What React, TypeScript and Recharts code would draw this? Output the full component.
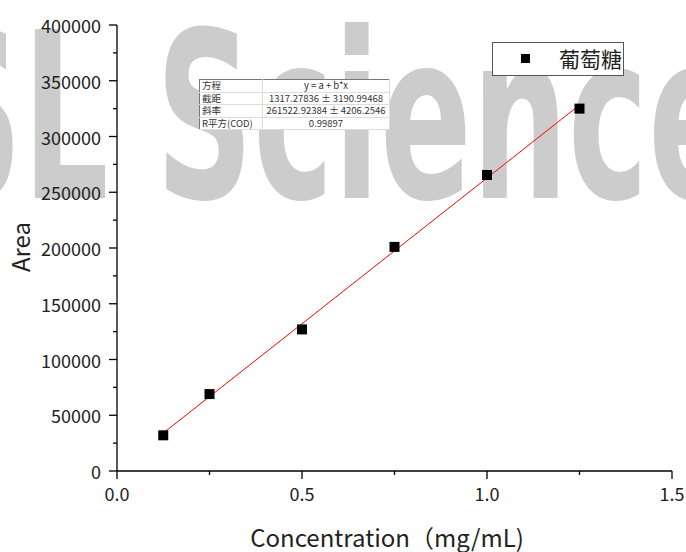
import React from 'react';
import { ComposedChart, Scatter, Line, XAxis, YAxis, Legend } from 'recharts';

// calibration points
const concentrations = [0.125, 0.25, 0.5, 0.75, 1.0, 1.25];
const areas = [32000, 69000, 127000, 201000, 265500, 325000];

// end points of the fitted line
const fitX = [0.125, 1.25];
const fitY = [34000, 328200];

const xTicks = [0, 0.25, 0.5, 0.75, 1.0, 1.25, 1.5];
const xMajor = [0, 0.5, 1.0, 1.5];
const yTicks = [
  0, 25000, 50000, 75000, 100000, 125000, 150000, 175000, 200000,
  225000, 250000, 275000, 300000, 325000, 350000, 375000, 400000,
];
const yMajor = [0, 50000, 100000, 150000, 200000, 250000, 300000, 350000, 400000];

const seriesName = '葡萄糖';
const fitLabels = ['方程', '截距', '斜率', 'R平方(COD)'];
const fitValues = ['y = a + b*x', '1317.27836 ± 3190.99468', '261522.92384 ± 4206.2546', '0.99897'];

const points = concentrations.map((x, i) => ({ x, y: areas[i] }));
const fitLine = fitX.map((x, i) => ({ x, y: fitY[i] }));

const FONT = '"Noto Sans CJK SC", "Noto Sans", sans-serif';

const YTick = (props: any) => {
  const { x, y, payload } = props;
  const major = yMajor.includes(payload.value);
  return (
    <g>
      <line x1={x - (major ? 8 : 4)} x2={x} y1={y} y2={y} stroke="#000" strokeWidth={1.3} />
      {major && (
        <text x={x - 16} y={y} textAnchor="end" dominantBaseline="central" fontSize={18} fill="#222" fontFamily={FONT}>
          {payload.value}
        </text>
      )}
    </g>
  );
};

const XTick = (props: any) => {
  const { x, y, payload } = props;
  const major = xMajor.includes(payload.value);
  return (
    <g>
      <line x1={x} x2={x} y1={y} y2={y + (major ? 8 : 4)} stroke="#000" strokeWidth={1.3} />
      {major && (
        <text x={x} y={y + 22} textAnchor="middle" dominantBaseline="central" fontSize={18} fill="#222" fontFamily={FONT}>
          {payload.value.toFixed(1)}
        </text>
      )}
    </g>
  );
};

const SquareDot = (props: any) => (
  <rect x={props.cx - 5} y={props.cy - 5} width={10} height={10} fill="#000" />
);

const LegendBox = () => (
  <div
    style={{
      width: 130,
      height: 32,
      border: '1px solid #555',
      background: '#fff',
      position: 'relative',
      fontFamily: FONT,
    }}
  >
    <div style={{ position: 'absolute', left: 28, top: 11, width: 9, height: 9, background: '#000' }} />
    <div style={{ position: 'absolute', left: 66, top: 1, fontSize: 21, lineHeight: '28px', color: '#222' }}>
      {seriesName}
    </div>
  </div>
);

const cell: React.CSSProperties = {
  borderBottom: '1px solid #ddd',
  borderRight: '1px solid #ddd',
  padding: '0 2px',
  height: 11.5,
  lineHeight: '11.5px',
  whiteSpace: 'nowrap',
};

export default function App() {
  return (
    <div style={{ position: 'absolute', left: 0, top: 0, width: 686, height: 552, background: '#fff', overflow: 'hidden' }}>
      <svg width={686} height={552} style={{ position: 'absolute', left: 0, top: 0 }}>
        <text
          x={-75}
          y={198}
          fontSize={232}
          fontWeight="bold"
          fontFamily="DejaVu Sans"
          fill="#cccccc"
          textLength={815}
          lengthAdjust="spacingAndGlyphs"
        >
          SL Science
        </text>
      </svg>
      <div style={{ position: 'absolute', left: 0, top: 0 }}>
        <ComposedChart width={686} height={552} margin={{ top: 25, right: 14, bottom: 0, left: 0 }}>
          <XAxis
            type="number"
            dataKey="x"
            domain={[0, 1.5]}
            ticks={xTicks}
            interval={0}
            height={81}
            tickSize={0}
            tickMargin={0}
            tickLine={false}
            tick={<XTick />}
            axisLine={{ stroke: '#000', strokeWidth: 1.3 }}
            label={{
              content: () => (
                <text x={387} y={547} textAnchor="middle" fontSize={24} fill="#222" fontFamily={FONT}>
                  Concentration（mg/mL)
                </text>
              ),
            }}
          />
          <XAxis
            xAxisId="top"
            orientation="top"
            type="number"
            domain={[0, 1.5]}
            height={0}
            tick={false}
            tickLine={false}
            axisLine={{ stroke: '#000', strokeWidth: 1.3 }}
          />
          <YAxis
            type="number"
            domain={[0, 400000]}
            ticks={yTicks}
            interval={0}
            width={117}
            tickSize={0}
            tickMargin={0}
            tickLine={false}
            tick={<YTick />}
            axisLine={{ stroke: '#000', strokeWidth: 1.3 }}
            label={{
              content: () => (
                <text
                  x={19}
                  y={247}
                  transform="rotate(-90 19 247)"
                  textAnchor="middle"
                  dominantBaseline="central"
                  fontSize={24}
                  fill="#222"
                  fontFamily={FONT}
                >
                  Area
                </text>
              ),
            }}
          />
          <YAxis
            yAxisId="right"
            orientation="right"
            type="number"
            domain={[0, 400000]}
            width={0}
            tick={false}
            tickLine={false}
            axisLine={{ stroke: '#000', strokeWidth: 1.3 }}
          />
          <Line
            data={fitLine}
            dataKey="y"
            stroke="#ff0000"
            strokeWidth={1}
            dot={false}
            legendType="none"
            isAnimationActive={false}
          />
          <Scatter data={points} dataKey="y" name={seriesName} shape={<SquareDot />} isAnimationActive={false} />
          <Legend
            layout="vertical"
            verticalAlign="middle"
            align="center"
            content={() => <LegendBox />}
            wrapperStyle={{ position: 'absolute', left: 492, top: 42, width: 132, height: 34 }}
          />
        </ComposedChart>
      </div>
      <table
        style={{
          position: 'absolute',
          left: 199,
          top: 79,
          width: 191,
          borderCollapse: 'collapse',
          background: '#fff',
          border: '1px solid #777',
          fontFamily: FONT,
          fontSize: 9.5,
          color: '#333',
        }}
      >
        <tbody>
          {fitLabels.map((label, i) => (
            <tr key={label}>
              <td style={{ ...cell, width: 58, textAlign: 'left' }}>{label}</td>
              <td style={{ ...cell, textAlign: 'center' }}>{fitValues[i]}</td>
            </tr>
          ))}
        </tbody>
      </table>
    </div>
  );
}
